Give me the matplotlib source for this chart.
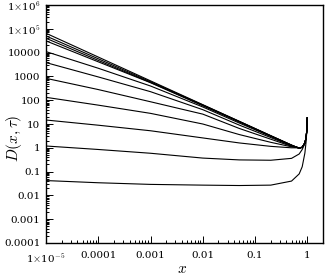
import matplotlib
matplotlib.use("Agg")
import matplotlib.pyplot as plt
from matplotlib.ticker import FixedLocator, LogLocator, NullFormatter

plt.rcParams['font.family'] = ['DejaVu Serif']
plt.rcParams['mathtext.fontset'] = 'cm'

x = [1e-5, 1e-4, 1e-3, 1e-2, 0.05, 0.2, 0.5, 0.7, 0.8, 0.9, 0.95, 0.98, 0.995, 1.0]

# D(x, tau) for successive tau (top curve = earliest)
d1 = [65000, 6500, 650, 65, 13, 3.25, 1.3, 0.95, 1.05, 1.6, 2.7, 5.5, 11, 18]
d2 = [50000, 5500, 600, 63, 12.8, 3.2, 1.3, 0.95, 1.05, 1.6, 2.7, 5.5, 11, 18]
d3 = [40000, 4700, 560, 62, 12.6, 3.15, 1.28, 0.96, 1.05, 1.6, 2.7, 5.5, 11, 18]
d4 = [31000, 4100, 543, 58, 12.2, 3.1, 1.27, 0.97, 1.05, 1.6, 2.7, 5.5, 11, 18]
d5 = [11000, 2200, 395, 52, 11.0, 3.0, 1.25, 0.98, 1.05, 1.6, 2.7, 5.5, 11, 18]
d6 = [3800, 950, 228, 40, 9.0, 2.7, 1.2, 1.0, 1.05, 1.6, 2.7, 5.5, 11, 18]
d7 = [830, 280, 86, 26, 6.5, 2.3, 1.15, 1.0, 1.05, 1.6, 2.7, 5.5, 11, 18]
d8 = [132, 62, 28, 10, 3.6, 1.7, 1.1, 1.0, 1.05, 1.6, 2.7, 5.5, 11, 18]
d9 = [14.7, 8.9, 5.2, 2.6, 1.6, 1.15, 1.0, 1.0, 1.05, 1.6, 2.7, 5.5, 11, 18]
d10 = [1.19, 0.85, 0.59, 0.37, 0.31, 0.3, 0.36, 0.55, 0.85, 1.5, 2.7, 5.5, 11, 18]
d11 = [0.042, 0.034, 0.029, 0.027, 0.026, 0.027, 0.04, 0.08, 0.16, 0.6, 1.8, 5, 11, 18]
curves = [d1, d2, d3, d4, d5, d6, d7, d8, d9, d10, d11]

y_ticks = [1e-4, 1e-3, 1e-2, 0.1, 1, 10, 100, 1000, 10000, 1e5, 1e6]
y_labels = ['0.0001', '0.001', '0.01', '0.1', '1', '10', '100', '1000', '10000',
            r'1$\times$10$^{5}$', r'1$\times$10$^{6}$']
x_ticks = [1e-5, 1e-4, 1e-3, 1e-2, 0.1, 1]
x_labels = [r'1$\times$10$^{-5}$', '0.0001', '0.001', '0.01', '0.1', '1']

fig = plt.figure(figsize=(3.27, 2.80), dpi=100)
ax = fig.add_axes([46 / 327, 1 - 243 / 280, 277 / 327, 238 / 280])

for d in curves:
    ax.plot(x, d, color='black', lw=0.8)

ax.set_xscale('log')
ax.set_yscale('log')
ax.set_xlim(1e-5, 2.0)
ax.set_ylim(1e-4, 1e6)

ax.xaxis.set_major_locator(FixedLocator(x_ticks))
ax.set_xticklabels(x_labels)
ax.yaxis.set_major_locator(FixedLocator(y_ticks))
ax.set_yticklabels(y_labels)
ax.xaxis.set_minor_locator(LogLocator(base=10, subs=range(2, 10), numticks=20))
ax.yaxis.set_minor_locator(LogLocator(base=10, subs=range(2, 10), numticks=20))
ax.xaxis.set_minor_formatter(NullFormatter())
ax.yaxis.set_minor_formatter(NullFormatter())

ax.tick_params(which='both', direction='in', top=False, right=False, labelsize=7.5, width=0.7)
ax.tick_params(which='major', length=5)
ax.tick_params(axis='y', which='major', pad=4)
ax.tick_params(axis='x', which='major', pad=6)
ax.tick_params(which='minor', length=2.5)
for s in ax.spines.values():
    s.set_linewidth(1.0)

ax.set_xlabel(r'$x$', fontsize=11)
ax.xaxis.set_label_coords(0.49, -0.08)
ax.set_ylabel(r'$D(x,\tau)$', fontsize=11)
ax.yaxis.set_label_coords(-0.08, 0.44)

fig.savefig('out.png', dpi=100)
